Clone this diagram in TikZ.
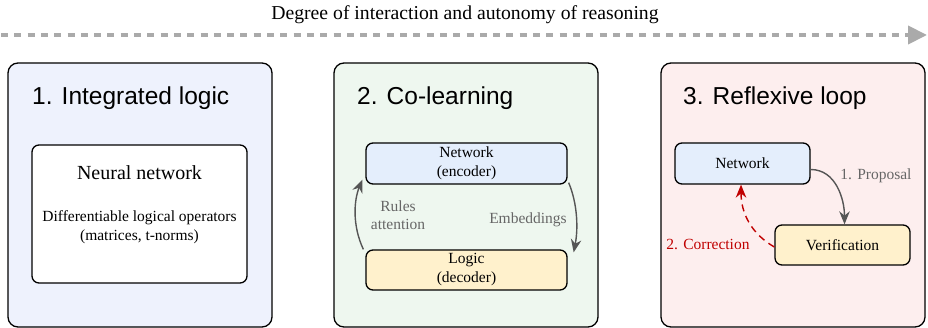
\documentclass[tikz,border=0pt]{standalone}
\usepackage{fontspec}
\setmainfont{Liberation Serif}
\newfontfamily\titlefont{Liberation Sans}
\usetikzlibrary{arrows.meta}
\definecolor{panelA}{HTML}{EEF2FD}
\definecolor{panelB}{HTML}{EEF7EF}
\definecolor{panelC}{HTML}{FDEEEE}
\definecolor{boxblue}{HTML}{E4EEFC}
\definecolor{boxyellow}{HTML}{FFF1CC}
\definecolor{arrgray}{HTML}{555555}
\definecolor{lblgray}{HTML}{666666}
\definecolor{topgray}{HTML}{AAAAAA}
\definecolor{corrred}{HTML}{C00000}
\tikzset{
  panel/.style={draw=black, line width=1.3pt, rounded corners=10pt, minimum width=264pt, minimum height=264pt, inner sep=0pt},
  innerbox/.style={draw=black, line width=1.3pt, rounded corners=7pt, inner sep=0pt},
  ptitle/.style={font=\titlefont\fontsize{24.5}{28}\selectfont, anchor=base west, inner sep=0pt},
  smalltxt/.style={font=\fontsize{15.5}{19}\selectfont, align=center, inner sep=0pt},
  flow/.style={draw=arrgray, line width=1.4pt, -{Stealth[length=13pt,width=10.5pt]}},
  lbl/.style={font=\fontsize{15.5}{18.5}\selectfont, text=lblgray, align=center, inner sep=0pt}
}
\begin{document}
\begin{tikzpicture}[x=1pt,y=-1pt]
\useasboundingbox (0,0) rectangle (928,328);
% top arrow
\node[font=\fontsize{19.7}{23}\selectfont, anchor=base, inner sep=0pt] (toptext) at (465,20) {Degree of interaction and autonomy of reasoning};
\coordinate (tstart) at (1,35);
\coordinate (tend) at (927,35);
\draw[topgray, line width=4pt, dash pattern=on 7pt off 6.3pt, -{Triangle[length=19pt,width=18pt]}] (tstart) -- (tend);
% panels
\node[panel, fill=panelA] (p1) at (140,195) {};
\node[panel, fill=panelB] (p2) at (466,195) {};
\node[panel, fill=panelC] (p3) at (793,195) {};
\node[ptitle] (t1) at (32,104.5) {1. Integrated logic};
\node[ptitle] (t2) at (357,104.5) {2. Co-learning};
\node[ptitle] (t3) at (683,104.5) {3. Reflexive loop};
% panel 1
\node[innerbox, fill=white, minimum width=215pt, minimum height=138pt] (nn) at (139.5,214) {};
\node[font=\fontsize{20}{24}\selectfont, inner sep=0pt] (nntitle) at (139.5,173) {Neural network};
\node[smalltxt] (nnops) at (139.5,227) {Differentiable logical operators\\(matrices, t-norms)};
% panel 2
\node[innerbox, fill=boxblue, minimum width=201pt, minimum height=41pt, smalltxt] (enc) at (466.5,163.5) {Network\\(encoder)};
\node[innerbox, fill=boxyellow, minimum width=201pt, minimum height=40pt, smalltxt] (dec) at (466.5,270) {Logic\\(decoder)};
\draw[flow] ([xshift=-2pt]dec.north west) .. controls (352,225) and (354,200) .. ([xshift=-3pt,yshift=5pt]enc.south west);
\draw[flow] ([xshift=1pt,yshift=2pt]enc.south east) .. controls (578,205) and (578,230) .. ([xshift=6pt,yshift=-3pt]dec.north east);
\node[lbl] (lra) at (398,215) {Rules\\attention};
\node[lbl] (lemb) at (528,220) {Embeddings};
% panel 3
\node[innerbox, fill=boxblue, minimum width=135pt, minimum height=41pt, smalltxt] (net) at (742.5,163.5) {Network};
\node[innerbox, fill=boxyellow, minimum width=135pt, minimum height=40pt, smalltxt] (ver) at (842.5,245) {Verification};
\draw[flow] ([yshift=-6pt]net.east) to[out=0, in=90] ([xshift=2pt]ver.north);
\draw[draw=corrred, line width=1.4pt, dash pattern=on 7pt off 5pt, -{Stealth[length=13pt,width=10.5pt]}] ([yshift=-2pt]ver.west) to[out=150, in=-90] ([xshift=-1.5pt]net.south);
\node[lbl] (lprop) at (876,176) {1. Proposal};
\node[lbl, text=corrred] (lcorr) at (708,244) {2. Correction};
\end{tikzpicture}
\end{document}
